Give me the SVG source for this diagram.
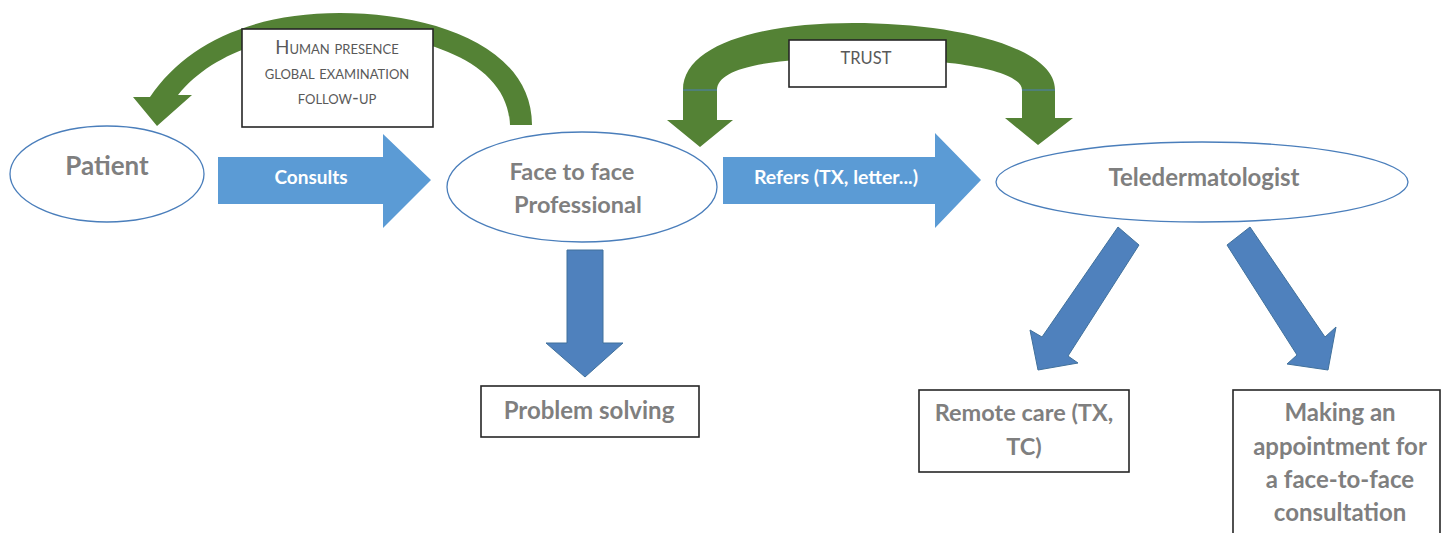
<svg xmlns="http://www.w3.org/2000/svg" width="1446" height="533" viewBox="0 0 1446 533">
<style>
.ell{fill:#fff;stroke:#4a7ebb;stroke-width:1.3}
.box{fill:#fff;stroke:#262626;stroke-width:1.6}
.green{fill:#548235}
.blue{fill:#5b9bd5}
.dblue{fill:#4f81bd;stroke:#41719c;stroke-width:1}
.t{font-family:Lato,"Liberation Sans",sans-serif;font-weight:bold;fill:#7f7f7f;text-anchor:middle}
.w{font-family:Lato,"Liberation Sans",sans-serif;font-weight:bold;fill:#fff;text-anchor:middle}
.sc{font-family:Lato,"Liberation Sans",sans-serif;fill:#595959;text-anchor:middle;font-size:18.5px;font-variant:small-caps}
</style>
<rect width="1446" height="533" fill="#fff"/>
<g id="connectors">
  <path class="green" d="M532,125 C532,45 430,13 340,13 C250,13 185,45 150,97 L133,97 L157,126 L192,95 L178,95 C210,55 270,33 340,33 C420,33 508,60 510,125 Z"/>
  <path class="green" d="M683,120 L683,90 C683,45 760,23 853,23 C950,23 1055,45 1055,90 L1055,118 L1073,118 L1038,145 L1005,118 L1022,118 L1022,90 C1022,70 950,58 853,58 C760,58 717,70 717,90 L717,120 L733,120 L700,147 L667,120 Z"/>
  <line x1="683" y1="90" x2="717" y2="90" stroke="#4a7ebb" stroke-width="1"/>
  <line x1="1022" y1="90" x2="1055" y2="90" stroke="#4a7ebb" stroke-width="1"/>
  <path class="blue" d="M218,157 L383,157 L383,134 L431,180 L383,228 L383,204 L218,204 Z"/>
  <path class="blue" d="M723,157 L935,157 L935,133 L981,180 L935,228 L935,204 L723,204 Z"/>
  <path class="dblue" d="M567,250 L603,250 L603,343 L623,343 L585,377 L546,343 L567,343 Z"/>
  <path class="dblue" d="M1118,227 L1139,245 L1068,356 L1078,363 L1038,370 L1030,330 L1042,337 Z"/>
  <path class="dblue" d="M1227,245 L1250,227 L1325,337 L1336,327 L1328,370 L1287,364 L1297,355 Z"/>
</g>
<g id="box-human">
  <rect class="box" x="242" y="29" width="191" height="98"/>
  <text class="sc" x="337" y="54">Human presence</text>
  <text class="sc" x="337" y="79">global examination</text>
  <text class="sc" x="337" y="104">follow-up</text>
</g>
<g id="box-trust">
  <rect class="box" x="789" y="40" width="157" height="47"/>
  <text class="sc" x="866" y="64" style="font-size:16.5px">TRUST</text>
</g>
<g id="patient">
  <ellipse class="ell" cx="107" cy="174" rx="97" ry="48"/>
  <text class="t" x="107" y="175" font-size="26">Patient</text>
</g>
<text class="w" x="311" y="184" font-size="19">Consults</text>
<g id="face">
  <ellipse class="ell" cx="582" cy="187" rx="135" ry="55"/>
  <text class="t" x="572" y="180" font-size="23.5">Face to face</text>
  <text class="t" x="578" y="213" font-size="23.5">Professional</text>
</g>
<text class="w" x="836" y="184" font-size="19.5">Refers (TX, letter...)</text>
<g id="teleder">
  <ellipse class="ell" cx="1202" cy="182" rx="206" ry="40"/>
  <text class="t" x="1204" y="186" font-size="24">Teledermatologist</text>
</g>
<g id="problem">
  <rect class="box" x="481" y="386" width="218" height="51"/>
  <text class="t" x="589" y="419" font-size="24">Problem solving</text>
</g>
<g id="remote">
  <rect class="box" x="919" y="390" width="210" height="82"/>
  <text class="t" x="1024" y="421" font-size="23.5">Remote care (TX,</text>
  <text class="t" x="1024" y="455" font-size="23.5">TC)</text>
</g>
<g id="making">
  <rect class="box" x="1233" y="390" width="207" height="150"/>
  <text class="t" x="1340" y="421" font-size="24">Making an</text>
  <text class="t" x="1340" y="455" font-size="24">appointment for</text>
  <text class="t" x="1340" y="488" font-size="24">a face-to-face</text>
  <text class="t" x="1340" y="521" font-size="24">consultation</text>
</g>
</svg>
